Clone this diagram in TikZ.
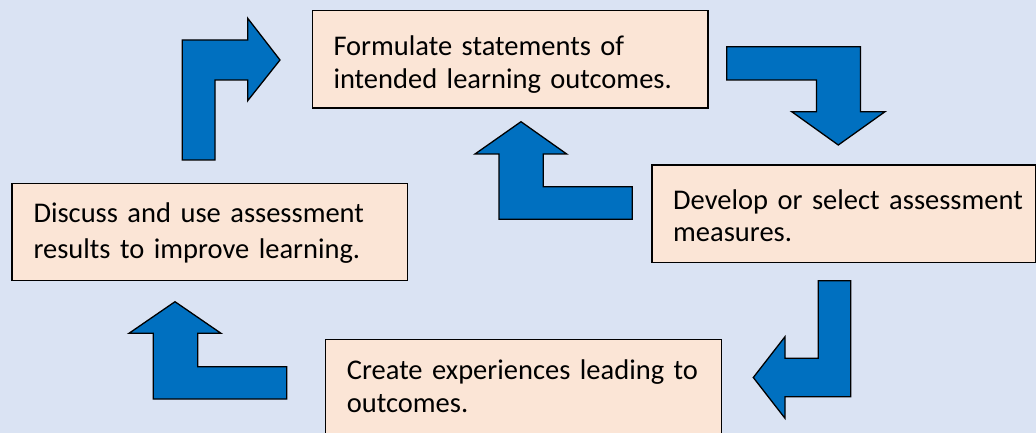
\documentclass[tikz,border=0pt]{standalone}
\usepackage{fontspec}
\setmainfont{Carlito}
\definecolor{bgblue}{HTML}{DAE3F3}
\definecolor{boxfill}{HTML}{FBE5D6}
\definecolor{arrowblue}{HTML}{0070C0}
\tikzset{
  stagebox/.style={draw=black, line width=1.2pt, fill=boxfill},
  stagetext/.style={anchor=base west, inner sep=0pt, text width=380pt, align=left,
    font=\fontsize{28.5}{33}\selectfont},
  bentarrow/.style={draw=black, line width=1.3pt, fill=arrowblue, line join=miter}
}
\begin{document}
\begin{tikzpicture}[x=1pt, y=-1pt]
\useasboundingbox (0,0) rectangle (1036,433);
\clip (0,0) rectangle (1036,433);
\fill[bgblue] (0,0) rectangle (1036,433);

% boxes
\draw[stagebox] (312.7,10.7) rectangle (708,108);
\draw[stagebox] (652,165) rectangle (1035.3,262.7);
\draw[stagebox] (12,183.3) rectangle (407.7,280.7);
\draw[stagebox] (325.7,339.3) rectangle (721.7,445);

% texts
\node[stagetext] (t1) at (333.3,56) {Formulate statements of\\intended learning outcomes.};
\node[stagetext, font=\fontsize{28.5}{32}\selectfont] (t2) at (673,209.5) {Develop or select assessment\\measures.};
\node[stagetext, font=\fontsize{28.5}{36}\selectfont] (t3) at (33.3,222) {Discuss and use assessment\\results to improve learning.};
\node[stagetext] (t4) at (346.7,379) {Create experiences leading to\\outcomes.};

% arrows
\draw[bentarrow] (182.3,160) -- (182.3,40) -- (247.7,40) -- (247.7,18.3) -- (280,60)
  -- (247.7,100.7) -- (247.7,80) -- (215,80) -- (215,160) -- cycle;
\draw[bentarrow] (726.7,46.7) -- (860.5,46.7) -- (860.5,111.7) -- (885,111.7) -- (838.3,145)
  -- (791.7,111.7) -- (816.5,111.7) -- (816.5,80) -- (726.7,80) -- cycle;
\draw[bentarrow] (521,121.7) -- (566.7,154) -- (543.3,154) -- (543.3,186.7) -- (632.3,186.7)
  -- (632.3,219.3) -- (499,219.3) -- (499,154) -- (475,154) -- cycle;
\draw[bentarrow] (818.3,280.7) -- (850.7,280.7) -- (850.7,396.7) -- (785,396.7) -- (785,418.3)
  -- (753.3,377.5) -- (785,336.7) -- (785,358.3) -- (818.3,358.3) -- cycle;
\draw[bentarrow] (175,301.7) -- (221,333.3) -- (197.7,333.3) -- (197.7,366.7) -- (286.7,366.7)
  -- (286.7,399) -- (153.3,399) -- (153.3,333.3) -- (129,333.3) -- cycle;
\end{tikzpicture}
\end{document}
